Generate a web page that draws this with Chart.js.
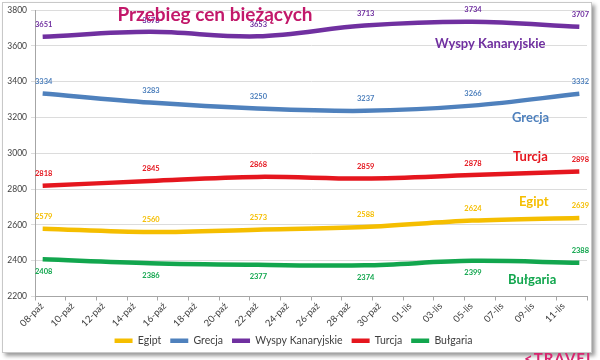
<!DOCTYPE html>
<html>
<head>
<meta charset="utf-8">
<script src="https://cdn.jsdelivr.net/npm/chart.js@4/dist/chart.umd.min.js"></script>
<style>
  html, body { margin: 0; padding: 0; background: #ffffff; width: 600px; height: 360px; overflow: hidden; }
  #frame { position: absolute; left: 2px; top: 2px; width: 588px; height: 349px; border: 1px solid #c8c8c8; box-shadow: 3px 3px 4px #9a9a9a; background: #fff; }
  #wrap { position: absolute; left: 0; top: 0; width: 600px; height: 360px; }
  #logo { position: absolute; left: 524px; top: 349px; font: bold 15px Lato, sans-serif; color: #d8256f; letter-spacing: 1px; }
</style>
</head>
<body>
<div id="frame"></div>
<div id="wrap"><canvas id="c" width="600" height="360"></canvas></div>
<div id="logo">&lt;TRAVEL</div>
<script>
// ---- data ----
const categories = ['08-paź', '15-paź', '22-paź', '29-paź', '05-lis', '12-lis'];
const dayOffsets = [0, 7, 14, 21, 28, 35];
const egipt = [2579, 2560, 2573, 2588, 2624, 2639];
const grecja = [3334, 3283, 3250, 3237, 3266, 3332];
const wyspyKanaryjskie = [3651, 3678, 3653, 3713, 3734, 3707];
const turcja = [2818, 2845, 2868, 2859, 2878, 2898];
const bulgaria = [2408, 2386, 2377, 2374, 2399, 2388];
const xTickLabels = ['08-paź', '10-paź', '12-paź', '14-paź', '16-paź', '18-paź', '20-paź', '22-paź', '24-paź',
  '26-paź', '28-paź', '30-paź', '01-lis', '03-lis', '05-lis', '07-lis', '09-lis', '11-lis'];
const yTicks = [2200, 2400, 2600, 2800, 3000, 3200, 3400, 3600, 3800];
const seriesNames = ['Egipt', 'Grecja', 'Wyspy Kanaryjskie', 'Turcja', 'Bułgaria'];
const titleText = 'Przebieg cen bieżących';

// ---- styles ----
const colors = ['#F5BE00', '#4F81BD', '#7030A0', '#E5161E', '#12A64E'];
const seriesValues = [egipt, grecja, wyspyKanaryjskie, turcja, bulgaria];

const datasets = seriesNames.map((name, i) => ({
  label: name,
  data: seriesValues[i].map((v, j) => ({ x: dayOffsets[j], y: v })),
  borderColor: colors[i],
  backgroundColor: colors[i],
  borderWidth: 4.5,
  pointRadius: 0,
  tension: 0.35,
  fill: false
}));

// series-name annotations (style: offsets from chart area right edge, y in px)
const nameLabelStyle = [
  { dx: -68, y: 202 },
  { dx: -75, y: 118 },
  { dx: -152, y: 44 },
  { dx: -74, y: 157 },
  { dx: -79, y: 280 }
];

const overlayPlugin = {
  id: 'overlay',
  afterDatasetsDraw(chart) {
    const ctx = chart.ctx;
    const area = chart.chartArea;
    ctx.save();
    // data labels
    chart.data.datasets.forEach((ds, i) => {
      const meta = chart.getDatasetMeta(i);
      ctx.fillStyle = colors[i];
      ctx.font = 'bold 7.5px Lato, sans-serif';
      ctx.textAlign = 'center';
      ctx.textBaseline = 'middle';
      meta.data.forEach((pt, j) => {
        let below = (i === 4 && j < meta.data.length - 1);
        let off = below ? 12 : -12;
        if (i === 2 && j === 1) off = -11;
        ctx.fillText(String(ds.data[j].y), pt.x + 1, pt.y + off);
      });
    });
    // series names
    seriesNames.forEach((name, i) => {
      const s = nameLabelStyle[i];
      ctx.fillStyle = colors[i];
      ctx.font = 'bold 13px Lato, sans-serif';
      ctx.textAlign = 'left';
      ctx.textBaseline = 'middle';
      ctx.fillText(name, area.right + s.dx, s.y);
    });
    // title
    ctx.fillStyle = '#C2186A';
    ctx.font = 'bold 19px Lato, sans-serif';
    ctx.textAlign = 'center';
    ctx.textBaseline = 'middle';
    ctx.fillText(titleText, 215, 15);
    ctx.restore();
  }
};

new Chart(document.getElementById('c'), {
  type: 'line',
  data: { datasets },
  plugins: [overlayPlugin],
  options: {
    responsive: false,
    devicePixelRatio: 1,
    animation: false,
    layout: { padding: { top: 10, right: 13, left: 0, bottom: 4 } },
    plugins: {
      legend: {
        position: 'bottom',
        labels: {
          usePointStyle: true,
          pointStyle: 'line',
          pointStyleWidth: 18,
          padding: 9,
          color: '#404040',
          font: { family: 'Lato, sans-serif', size: 10.5 }
        }
      },
      tooltip: { enabled: false },
      title: { display: false }
    },
    scales: {
      x: {
        type: 'linear',
        min: -0.5,
        max: 35.5,
        afterBuildTicks(scale) {
          const t = [];
          for (let k = 0; k <= xTickLabels.length; k++) t.push({ value: -0.5 + 2 * k });
          scale.ticks = t;
        },
        afterFit(scale) { scale.height = 30; scale.paddingLeft = 0; scale.paddingRight = 0; },
        ticks: {
          autoSkip: false,
          minRotation: 45,
          maxRotation: 45,
          labelOffset: 7,
          padding: 0,
          color: '#404040',
          font: { family: 'Lato, sans-serif', size: 9.5 },
          callback: (v, i) => xTickLabels[i] !== undefined ? xTickLabels[i] : ''
        },
        grid: { drawOnChartArea: false, drawTicks: true, tickLength: 4, color: '#a6a6a6' },
        border: { color: '#a6a6a6', width: 1 }
      },
      y: {
        min: 2200,
        max: 3800,
        afterBuildTicks(scale) { scale.ticks = yTicks.map(v => ({ value: v })); },
        afterFit(scale) { scale.width = 35; },
        ticks: {
          color: '#404040',
          padding: 4,
          font: { family: 'Lato, sans-serif', size: 8.5 },
          callback: (v) => String(v)
        },
        grid: { color: '#dcdcdc', tickLength: 4, drawTicks: true },
        border: { color: '#a6a6a6', width: 1 }
      }
    }
  }
});
</script>
</body>
</html>
